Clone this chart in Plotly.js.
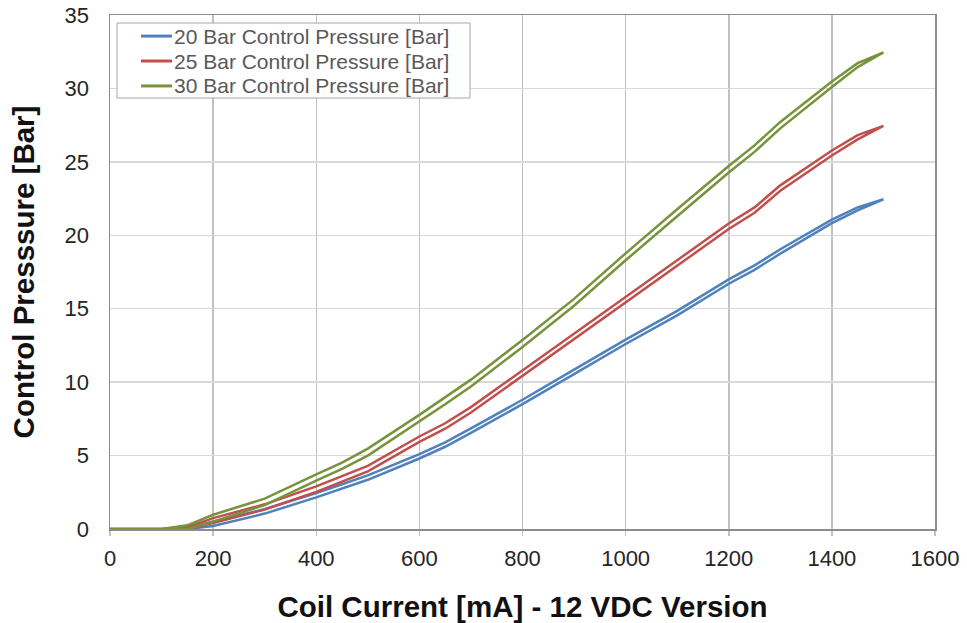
<!DOCTYPE html>
<html>
<head>
<meta charset="utf-8">
<script src="https://cdn.plot.ly/plotly-3.0.1.min.js"></script>
<style>html,body{margin:0;padding:0;background:#fff;}#chart{width:967px;height:623px;}</style>
</head>
<body>
<div id="chart"></div>
<script>
// Coil current [mA] sample points (same for rising and falling branch)
const current = [0,100,150,200,300,400,450,500,600,650,700,800,900,1000,1100,1200,1250,1300,1400,1450,1500];

// 20 bar version
const p20Rising  = [0,0,0,0.20,1.05,2.15,2.75,3.35,4.80,5.60,6.55,8.50,10.55,12.60,14.55,16.70,17.65,18.75,20.83,21.70,22.45];
const p20Falling = [0,0,0.08,0.50,1.35,2.45,3.05,3.65,5.10,5.90,6.85,8.80,10.85,12.90,14.85,17.00,17.95,19.05,21.07,21.90,22.45];
// 25 bar version
const p25Rising  = [0,0,0,0.40,1.33,2.53,3.23,3.93,5.93,6.83,7.93,10.43,12.93,15.43,17.93,20.43,21.53,23.03,25.43,26.53,27.45];
const p25Falling = [0,0,0.12,0.74,1.68,2.90,3.60,4.30,6.30,7.20,8.30,10.80,13.30,15.80,18.30,20.80,21.90,23.40,25.77,26.82,27.45];
// 30 bar version
const p30Rising  = [0,0,0,0.50,1.63,3.30,4.10,5.00,7.30,8.50,9.70,12.40,15.20,18.30,21.30,24.28,25.68,27.28,30.10,31.45,32.45];
const p30Falling = [0,0,0.25,0.97,2.07,3.72,4.52,5.47,7.77,8.97,10.17,12.87,15.67,18.77,21.77,24.72,26.12,27.72,30.47,31.72,32.45];

const seriesNames = ["20 Bar Control Pressure [Bar]","25 Bar Control Pressure [Bar]","30 Bar Control Pressure [Bar]"];
const seriesColors = ["#4f81bd","#c0504d","#77933c"];

function loop(rising, falling){
  const x = current.concat(current.slice().reverse());
  const y = rising.concat(falling.slice().reverse());
  return {x:x, y:y};
}
const loops = [loop(p20Rising,p20Falling), loop(p25Rising,p25Falling), loop(p30Rising,p30Falling)];

const traces = loops.map((d,i)=>({
  type:'scatter', mode:'lines', x:d.x, y:d.y, name:seriesNames[i],
  line:{color:seriesColors[i], width:2.5}, showlegend:false
}));

const font = "Arial, 'Liberation Sans', sans-serif";

// Legend box drawn in plot-area (paper) coordinates, Excel-style compact rows
const legendRowsY = [0.959, 0.9105, 0.862];
const shapes = [{type:'rect', xref:'paper', yref:'paper', x0:0.0085, x1:0.4364, y0:0.8385, y1:0.9844,
  line:{color:'#a6a6a6', width:1}, fillcolor:'#ffffff', layer:'above'}];
const annotations = [];
seriesNames.forEach((n,i)=>{
  shapes.push({type:'line', xref:'paper', yref:'paper', x0:0.0376, x1:0.0752,
    y0:legendRowsY[i], y1:legendRowsY[i], line:{color:seriesColors[i], width:3}, layer:'above'});
  annotations.push({xref:'paper', yref:'paper', x:0.0768, y:legendRowsY[i], xanchor:'left', yanchor:'middle',
    text:n, showarrow:false, font:{family:font, size:21, color:'#595959'}, borderpad:0});
});

const layout = {
  width:967, height:623,
  margin:{l:110, r:32, t:15, b:94},
  paper_bgcolor:'#fff', plot_bgcolor:'#fff',
  showlegend:false,
  shapes:shapes, annotations:annotations,
  xaxis:{range:[0,1600], dtick:200, tick0:0,
    showgrid:true, gridcolor:'#c0c0c0', gridwidth:1.5,
    showline:true, linecolor:'#8c8c8c', linewidth:1.5, mirror:true,
    ticks:'outside', ticklen:5, tickcolor:'#c0c0c0', tickwidth:1.5,
    zeroline:false, ticklabelstandoff:4,
    tickfont:{family:font, size:22, color:'#262626'},
    title:{text:'Coil Current [mA] - 12 VDC Version', standoff:26,
      font:{family:font, size:29.5, color:'#111', weight:'bold'}}},
  yaxis:{range:[0,35], dtick:5, tick0:0,
    showgrid:true, gridcolor:'#d9d9d9', gridwidth:1.5,
    showline:true, linecolor:'#8c8c8c', linewidth:1.5, mirror:true,
    ticks:'', zeroline:false, ticklabelstandoff:15,
    tickfont:{family:font, size:22, color:'#262626'},
    title:{text:'Control Presssure [Bar]', standoff:21,
      font:{family:font, size:29.5, color:'#111', weight:'bold'}}}
};

Plotly.newPlot('chart', traces, layout, {displayModeBar:false, staticPlot:true});
</script>
</body>
</html>
